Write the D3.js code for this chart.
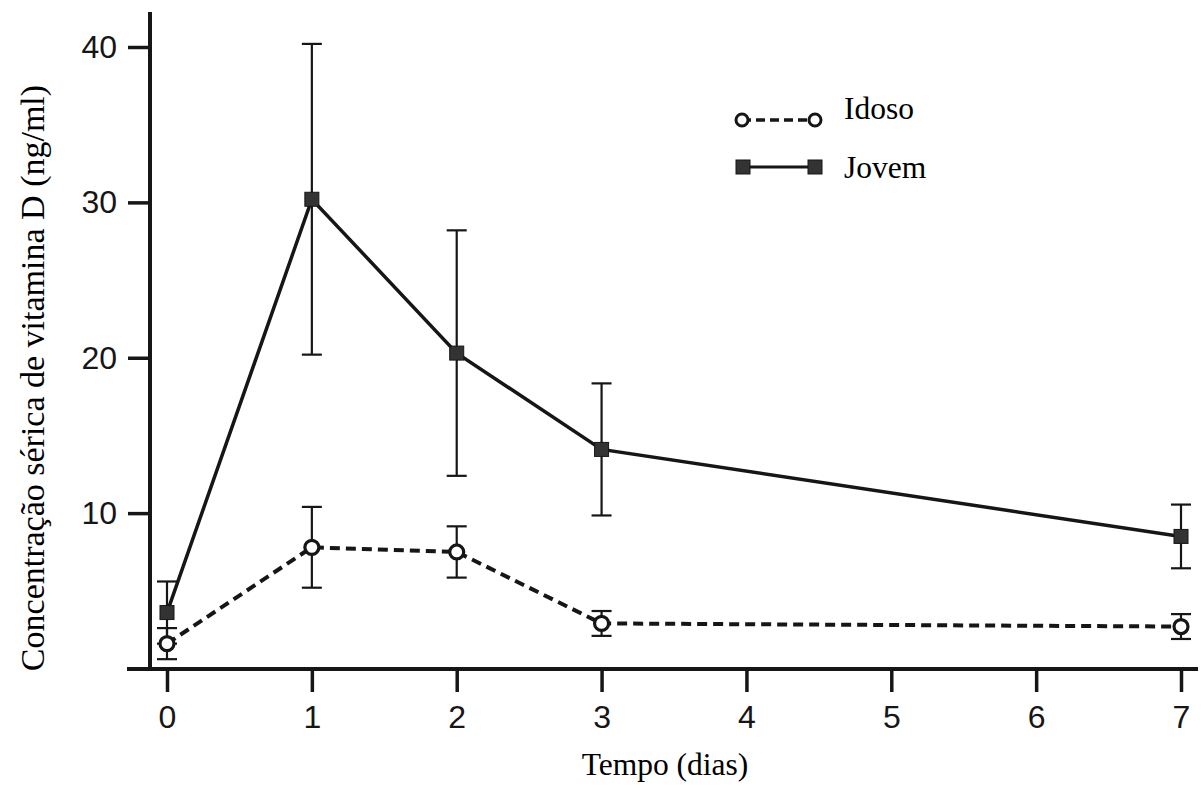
<!DOCTYPE html>
<html>
<head>
<meta charset="utf-8">
<script src="https://cdn.jsdelivr.net/npm/d3@7"></script>
<style>
  html, body { margin: 0; padding: 0; background: #fff; }
  svg { display: block; }
</style>
</head>
<body>
<svg id="chart" width="1204" height="787"></svg>
<script>
// ---- data ----
const days = [0, 1, 2, 3, 7];
const xTicks = [0, 1, 2, 3, 4, 5, 6, 7];
const yTicks = [10, 20, 30, 40];
const jovemMean = [3.6, 30.2, 20.3, 14.1, 8.5];
const jovemErr  = [2.0, 10.0, 7.9, 4.25, 2.05];
const idosoMean = [1.6, 7.8, 7.5, 2.9, 2.7];
const idosoErr  = [1.0, 2.6, 1.65, 0.8, 0.8];
const seriesNames = ["Idoso", "Jovem"];
const xTitle = "Tempo (dias)";
const yTitle = "Concentração sérica de vitamina D (ng/ml)";

// ---- layout ----
const svg = d3.select("#chart");
const ink = "#161616";
const serif = "'Liberation Serif', 'Times New Roman', serif";
const sans = "'Liberation Sans', Arial, sans-serif";
const x = d3.scaleLinear().domain([0, 7]).range([167, 1181]);
const y = d3.scaleLinear().domain([0, 40]).range([668.5, 47]);
const axisX = 150, axisY = 669;

// axes lines
svg.append("line").attr("x1", axisX).attr("x2", axisX).attr("y1", 12).attr("y2", axisY + 1)
  .attr("stroke", ink).attr("stroke-width", 4);
svg.append("line").attr("x1", 127).attr("x2", 1198).attr("y1", axisY).attr("y2", axisY)
  .attr("stroke", ink).attr("stroke-width", 4);

// y axis ticks
const yAxis = d3.axisLeft(y).tickValues(yTicks).tickSize(22).tickPadding(11).tickFormat(d3.format("d"));
const gy = svg.append("g").attr("transform", `translate(${axisX},0)`).call(yAxis);
gy.select(".domain").remove();
gy.selectAll(".tick line").attr("stroke", ink).attr("stroke-width", 3.5);
gy.selectAll(".tick text").attr("fill", ink)
  .style("font-family", sans).style("font-size", "32px");

// x axis ticks
const xAxis = d3.axisBottom(x).tickValues(xTicks).tickSize(23).tickPadding(13).tickFormat(d3.format("d"));
const gx = svg.append("g").attr("transform", `translate(0,${axisY})`).call(xAxis);
gx.select(".domain").remove();
gx.selectAll(".tick line").attr("stroke", ink).attr("stroke-width", 3.5);
gx.selectAll(".tick text").attr("fill", ink)
  .style("font-family", sans).style("font-size", "32px");

// titles
svg.append("text").attr("x", 665).attr("y", 775).attr("text-anchor", "middle")
  .style("font-family", serif).style("font-size", "31.5px")
  .attr("fill", "#000").text(xTitle);
svg.append("text").attr("transform", "translate(44,378) rotate(-90)").attr("text-anchor", "middle")
  .style("font-family", serif).style("font-size", "34px")
  .attr("fill", "#000").text(yTitle);

// series data
const jovem = days.map((d, i) => ({ d, m: jovemMean[i], e: jovemErr[i] }));
const idoso = days.map((d, i) => ({ d, m: idosoMean[i], e: idosoErr[i] }));
const line = d3.line().x(p => x(p.d)).y(p => y(p.m));

function errorBars(data) {
  const g = svg.append("g").attr("stroke", ink).attr("stroke-width", 2.2).attr("fill", "none");
  data.forEach(p => {
    const cx = x(p.d), top = y(p.m + p.e), bot = y(p.m - p.e);
    g.append("line").attr("x1", cx).attr("x2", cx).attr("y1", top).attr("y2", bot);
    g.append("line").attr("x1", cx - 10).attr("x2", cx + 10).attr("y1", top).attr("y2", top);
    g.append("line").attr("x1", cx - 10).attr("x2", cx + 10).attr("y1", bot).attr("y2", bot);
  });
}

// Jovem
svg.append("path").datum(jovem).attr("d", line).attr("fill", "none")
  .attr("stroke", ink).attr("stroke-width", 3.5);
errorBars(jovem);
// Idoso
svg.append("path").datum(idoso).attr("d", line).attr("fill", "none")
  .attr("stroke", ink).attr("stroke-width", 4).attr("stroke-dasharray", "10,6");
errorBars(idoso);

// markers
svg.append("g").selectAll("rect").data(jovem).join("rect")
  .attr("x", p => x(p.d) - 7).attr("y", p => y(p.m) - 7).attr("width", 14).attr("height", 14)
  .attr("fill", "#333").attr("stroke", ink).attr("stroke-width", 1);
svg.append("g").selectAll("circle").data(idoso).join("circle")
  .attr("cx", p => x(p.d)).attr("cy", p => y(p.m)).attr("r", 7)
  .attr("fill", "#fff").attr("stroke", ink).attr("stroke-width", 3.2);

// legend
const lg = svg.append("g");
lg.append("line").attr("x1", 742).attr("x2", 815).attr("y1", 120).attr("y2", 120)
  .attr("stroke", ink).attr("stroke-width", 3.5).attr("stroke-dasharray", "9,5");
[742, 815].forEach(cx => lg.append("circle").attr("cx", cx).attr("cy", 120).attr("r", 6)
  .attr("fill", "#fff").attr("stroke", ink).attr("stroke-width", 3));
lg.append("line").attr("x1", 743).attr("x2", 815).attr("y1", 167).attr("y2", 167)
  .attr("stroke", ink).attr("stroke-width", 3);
[743, 815].forEach(cx => lg.append("rect").attr("x", cx - 7).attr("y", 160).attr("width", 14).attr("height", 14)
  .attr("fill", "#333").attr("stroke", ink).attr("stroke-width", 1));
lg.append("text").attr("x", 844).attr("y", 119).text(seriesNames[0])
  .style("font-family", serif).style("font-size", "31.5px").attr("fill", "#000");
lg.append("text").attr("x", 844).attr("y", 178).text(seriesNames[1])
  .style("font-family", serif).style("font-size", "31.5px").attr("fill", "#000");
</script>
</body>
</html>
